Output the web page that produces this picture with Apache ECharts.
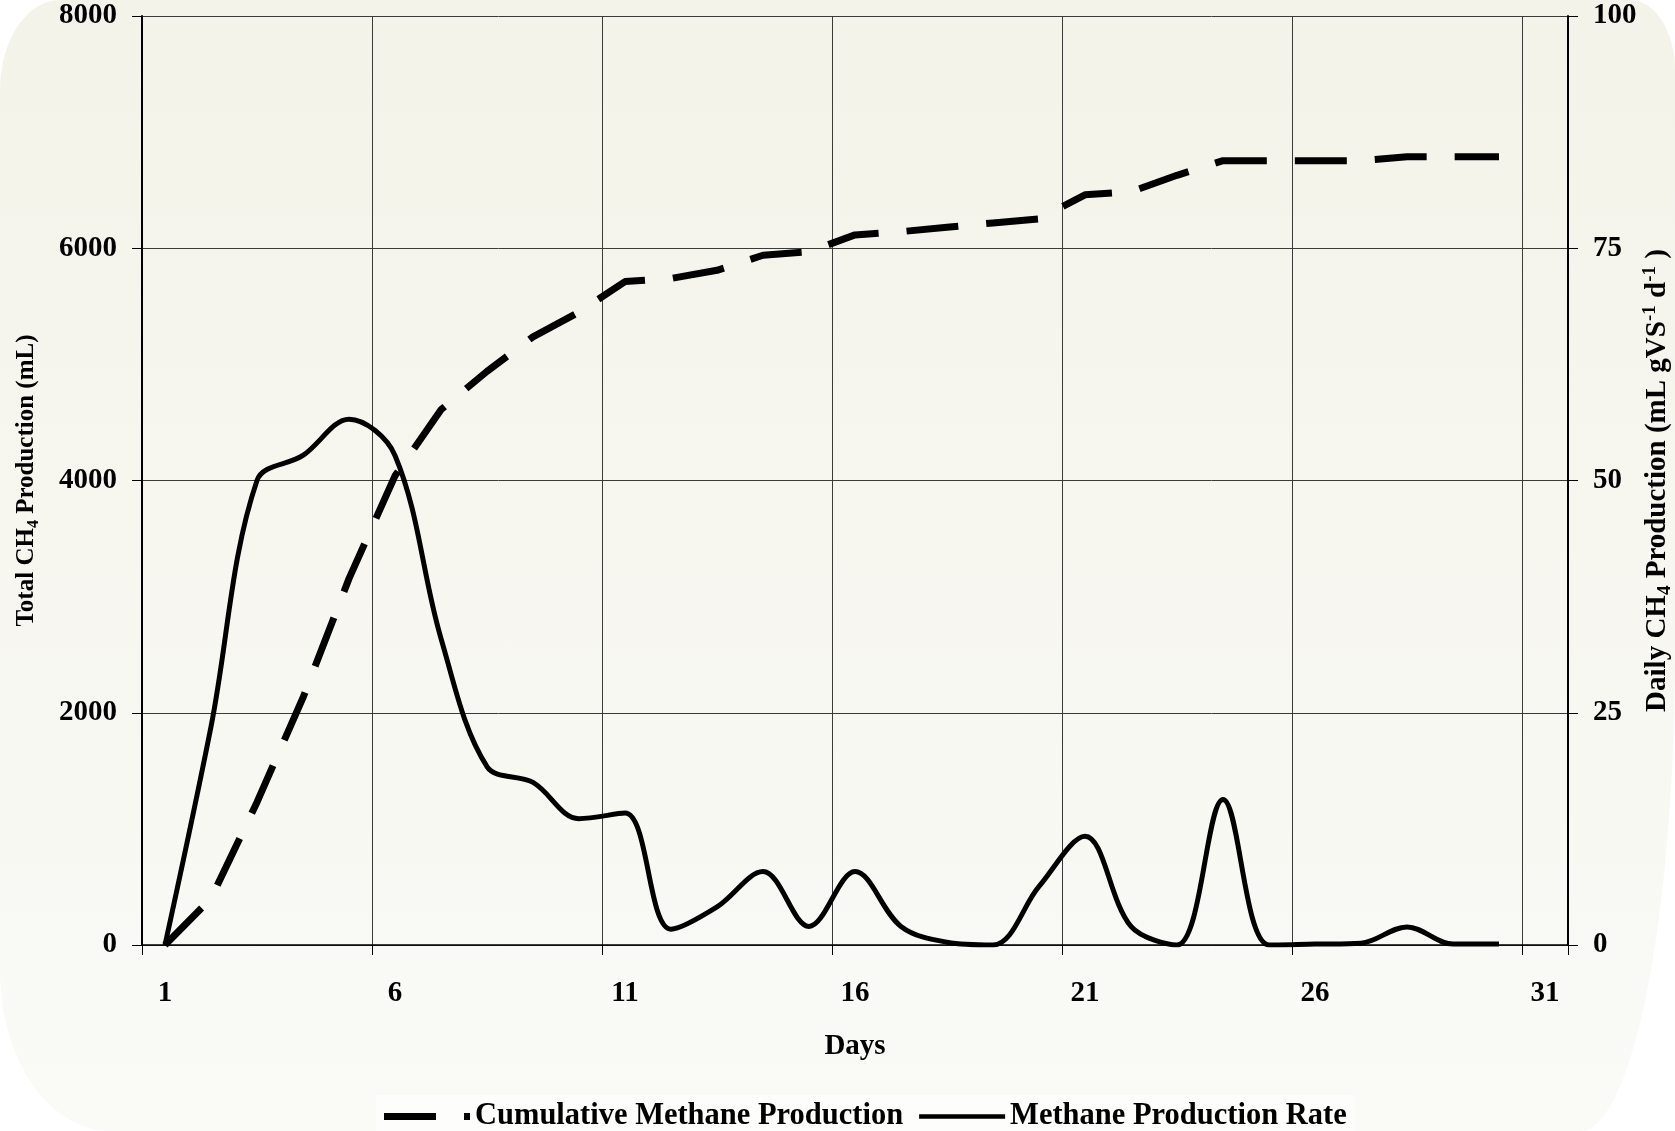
<!DOCTYPE html>
<html>
<head>
<meta charset="utf-8">
<script src="https://cdn.jsdelivr.net/npm/echarts@6/dist/echarts.min.js"></script>
<style>
html,body{margin:0;padding:0;background:#ffffff;}
#bg{position:absolute;left:0;top:0;width:1675px;height:1131px;
  background:linear-gradient(#f4f3e9,#fafaf7);
  border-radius:60px 45px 95px 110px / 90px 70px 480px 160px;}
#chart{position:absolute;left:0;top:0;width:1675px;height:1131px;}
</style>
</head>
<body>
<div id="bg"></div>
<div id="chart"></div>
<script>
const days = ['1','2','3','4','5','6','7','8','9','10','11','12','13','14','15','16','17','18','19','20','21','22','23','24','25','26','27','28','29','30','31'];
const cumulative = [0, 400, 1230, 2130, 3155, 4040, 4610, 4940, 5237, 5450, 5713, 5740, 5810, 5940, 5970, 6115, 6143, 6181, 6218, 6252, 6460, 6487, 6628, 6754, 6754, 6754, 6754, 6787, 6787, 6787];
const rate = [0, 23.5, 50, 52.7, 56.6, 52.7, 33, 19.2, 17.5, 13.6, 14.2, 1.7, 4.1, 7.9, 2.0, 7.9, 2.0, 0.3, 0, 6.3, 11.7, 2.0, 0, 15.65, 0, 0.1, 0.2, 1.95, 0.1, 0.1];
const seriesNames = ['Cumulative Methane Production', 'Methane Production Rate'];

const FF = '"Liberation Serif","Times New Roman",serif';
const txt = {fontFamily: FF, fontWeight: 'bold', color: '#000'};
const plain = v => String(v);

const chart = echarts.init(document.getElementById('chart'));
chart.setOption({
  backgroundColor: 'transparent',
  animation: false,
  grid: {left: 142, right: 107, top: 16, bottom: 186, containLabel: false, outerBoundsMode: 'none'},
  legend: {
    left: 376, top: 1095,
    itemWidth: 86, itemHeight: 7, itemGap: 16,
    padding: [6, 8, 20, 8],
    backgroundColor: '#fdfdfb',
    textStyle: Object.assign({fontSize: 30.5}, txt),
    data: [
      {name: seriesNames[0], icon: 'path://M0,0h52v7h-52zM80,0h6v7h-6z'},
      {name: seriesNames[1], icon: 'path://M0,0L0.01,0L0.01,0.01ZM0,1.25h86v4.5h-86zM86,7L85.99,7L85.99,6.99Z'}
    ]
  },
  xAxis: {
    type: 'category',
    data: days,
    boundaryGap: true,
    name: 'Days',
    nameLocation: 'middle',
    nameGap: 87,
    nameTextStyle: Object.assign({fontSize: 29}, txt),
    axisLine: {lineStyle: {color: '#000', width: 1.5}},
    axisTick: {show: true, interval: 4, length: 10, lineStyle: {color: '#000', width: 1}},
    axisLabel: Object.assign({interval: 4, margin: 34, fontSize: 29}, txt),
    splitLine: {show: true, interval: 4, lineStyle: {color: '#3a3a3a', width: 1}}
  },
  yAxis: [
    {
      type: 'value', min: 0, max: 8000, interval: 2000, position: 'left',
      name: '{a|Total CH}{s|4}{a| Production (mL)}',
      nameLocation: 'middle', nameRotate: 90, nameGap: 100, nameMoveOverlap: false,
      nameTextStyle: {rich: {
        a: Object.assign({fontSize: 25, lineHeight: 30}, txt),
        s: Object.assign({fontSize: 16, lineHeight: 17, verticalAlign: 'bottom'}, txt)
      }},
      axisLine: {show: true, lineStyle: {color: '#000', width: 2}},
      axisTick: {show: true, length: 10, lineStyle: {color: '#000', width: 1}},
      axisLabel: Object.assign({margin: 25, fontSize: 29, formatter: plain}, txt),
      splitLine: {show: true, lineStyle: {color: '#3a3a3a', width: 1}}
    },
    {
      type: 'value', min: 0, max: 100, interval: 25, position: 'right',
      name: '{a|Daily CH}{s|4}{a| Production (mL gVS}{p|-1}{a| d}{p|-1}{a| )}',
      nameLocation: 'middle', nameRotate: 90, nameGap: 73, nameMoveOverlap: false,
      nameTextStyle: {rich: {
        a: Object.assign({fontSize: 29, lineHeight: 34}, txt),
        s: Object.assign({fontSize: 19, lineHeight: 19, verticalAlign: 'bottom'}, txt),
        p: Object.assign({fontSize: 19, lineHeight: 19, verticalAlign: 'top'}, txt)
      }},
      axisLine: {show: true, lineStyle: {color: '#000', width: 2}},
      axisTick: {show: true, length: 10, lineStyle: {color: '#000', width: 1}},
      axisLabel: Object.assign({margin: 25, fontSize: 29, formatter: plain}, txt),
      splitLine: {show: false}
    }
  ],
  series: [
    {
      name: seriesNames[0], type: 'line', data: cumulative, yAxisIndex: 0,
      symbol: 'none', z: 3,
      lineStyle: {color: '#000', width: 7, type: [52, 28], cap: 'butt'},
      itemStyle: {color: '#000'}
    },
    {
      name: seriesNames[1], type: 'line', data: rate, yAxisIndex: 1,
      smooth: 0.35, symbol: 'none', z: 4,
      lineStyle: {color: '#000', width: 5},
      itemStyle: {color: '#000'}
    }
  ]
});
</script>
</body>
</html>
